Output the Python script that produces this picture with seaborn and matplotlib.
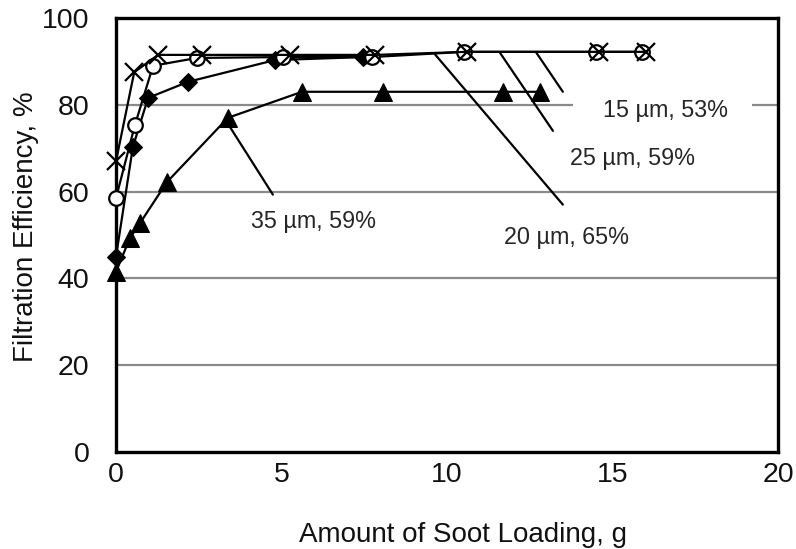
import numpy as np
import pandas as pd
import matplotlib
matplotlib.use("Agg")
import matplotlib.pyplot as plt
import seaborn as sns

# ---- data ----
cross_x = [0, 0.55, 1.27, 2.6, 5.26, 7.82, 10.6, 14.6, 16.0]
cross_y = [67, 87.5, 91.5, 91.5, 91.5, 91.5, 92.2, 92.2, 92.2]
circle_x = [0, 0.57, 1.12, 2.45, 5.05, 7.73, 10.5, 14.5, 15.9]
circle_y = [58.5, 75.3, 89.0, 90.8, 91.0, 91.0, 92.2, 92.2, 92.2]
diamond_x = [0, 0.51, 0.97, 2.18, 4.8, 7.46]
diamond_y = [45, 70.3, 81.6, 85.3, 90.3, 91.0]
tri_x = [0, 0.42, 0.73, 1.54, 3.38, 5.62, 8.07, 11.7, 12.8]
tri_y = [41.5, 49.3, 52.8, 62.2, 77.0, 83.0, 83.0, 83.0, 83.0]

x_ticks = [0, 5, 10, 15, 20]
y_ticks = [0, 20, 40, 60, 80, 100]
labels = ["15 µm, 53%", "25 µm, 59%", "20 µm, 65%", "35 µm, 59%"]

sns.set_theme(style="white")
plt.rcParams['font.family'] = ['Liberation Sans', 'DejaVu Sans']

fig = plt.figure(figsize=(7.96, 5.49), dpi=100)
ax = fig.add_axes([116/796, 1-452/549, (778-116)/796, (452-18)/549])

# gridlines (partly hidden behind the label boxes in the reference)
gcol = '#8a8a8a'
for g in [20, 40, 60]:
    ax.axhline(g, color=gcol, lw=1.6, zorder=1)
ax.hlines(80, 0, 13.8, color=gcol, lw=1.6, zorder=1)
ax.hlines(80, 19.2, 20, color=gcol, lw=1.6, zorder=1)

df_cross = pd.DataFrame({'x': cross_x, 'y': cross_y})
df_circle = pd.DataFrame({'x': circle_x, 'y': circle_y})
df_diamond = pd.DataFrame({'x': diamond_x, 'y': diamond_y})
df_tri = pd.DataFrame({'x': tri_x, 'y': tri_y})

common = dict(x='x', y='y', ax=ax, color='black', sort=False, estimator=None,
              linewidth=1.6, zorder=3, clip_on=False)
sns.lineplot(data=df_tri, marker='^', markersize=13, markerfacecolor='black',
             markeredgecolor='black', **common)
sns.lineplot(data=df_diamond, marker='D', markersize=9.5, markerfacecolor='black',
             markeredgecolor='black', **common)
sns.lineplot(data=df_circle, marker='o', markersize=10.5, markerfacecolor='white',
             markeredgecolor='black', markeredgewidth=1.6, **common)
sns.lineplot(data=df_cross, marker='x', markersize=13, markeredgewidth=1.6,
             markeredgecolor='black', **common)

# leader lines and labels
lead = dict(arrowprops=dict(arrowstyle='-', color='black', lw=1.6,
                            shrinkA=0, shrinkB=0))
ax.annotate('', xy=(12.7, 92), xytext=(13.5, 83), **lead)
ax.annotate('', xy=(11.6, 92), xytext=(13.2, 74), **lead)
ax.annotate('', xy=(9.64, 91.6), xytext=(13.5, 57), **lead)
ax.annotate('', xy=(3.35, 76), xytext=(4.74, 59.3), **lead)

afs = 16.8
ax.text(16.6, 78.8, labels[0], fontsize=afs, ha='center', va='center', zorder=5)
ax.text(15.6, 67.7, labels[1], fontsize=afs, ha='center', va='center', zorder=5)
ax.text(13.6, 49.5, labels[2], fontsize=afs, ha='center', va='center', zorder=5)
ax.text(5.96, 53.0, labels[3], fontsize=afs, ha='center', va='center', zorder=5)

ax.set_xlim(0, 20)
ax.set_ylim(0, 100)
ax.set_xticks(x_ticks)
ax.set_yticks(y_ticks)
ax.tick_params(axis='both', direction='in', length=7, width=2, color='black',
               labelsize=20.5, labelcolor='#111111')
ax.tick_params(axis='x', pad=7)
ax.tick_params(axis='y', pad=19)
for s in ax.spines.values():
    s.set_visible(True)
    s.set_color('black')
    s.set_linewidth(2.4)

ax.set_xlabel('Amount of Soot Loading, g', fontsize=20, color='#111111')
ax.set_ylabel('Filtration Efficiency, %', fontsize=20, color='#111111')
ax.xaxis.set_label_coords(0.524, -0.162)
ax.yaxis.set_label_coords(-0.117, 0.52)

fig.savefig('out.png', dpi=100)
